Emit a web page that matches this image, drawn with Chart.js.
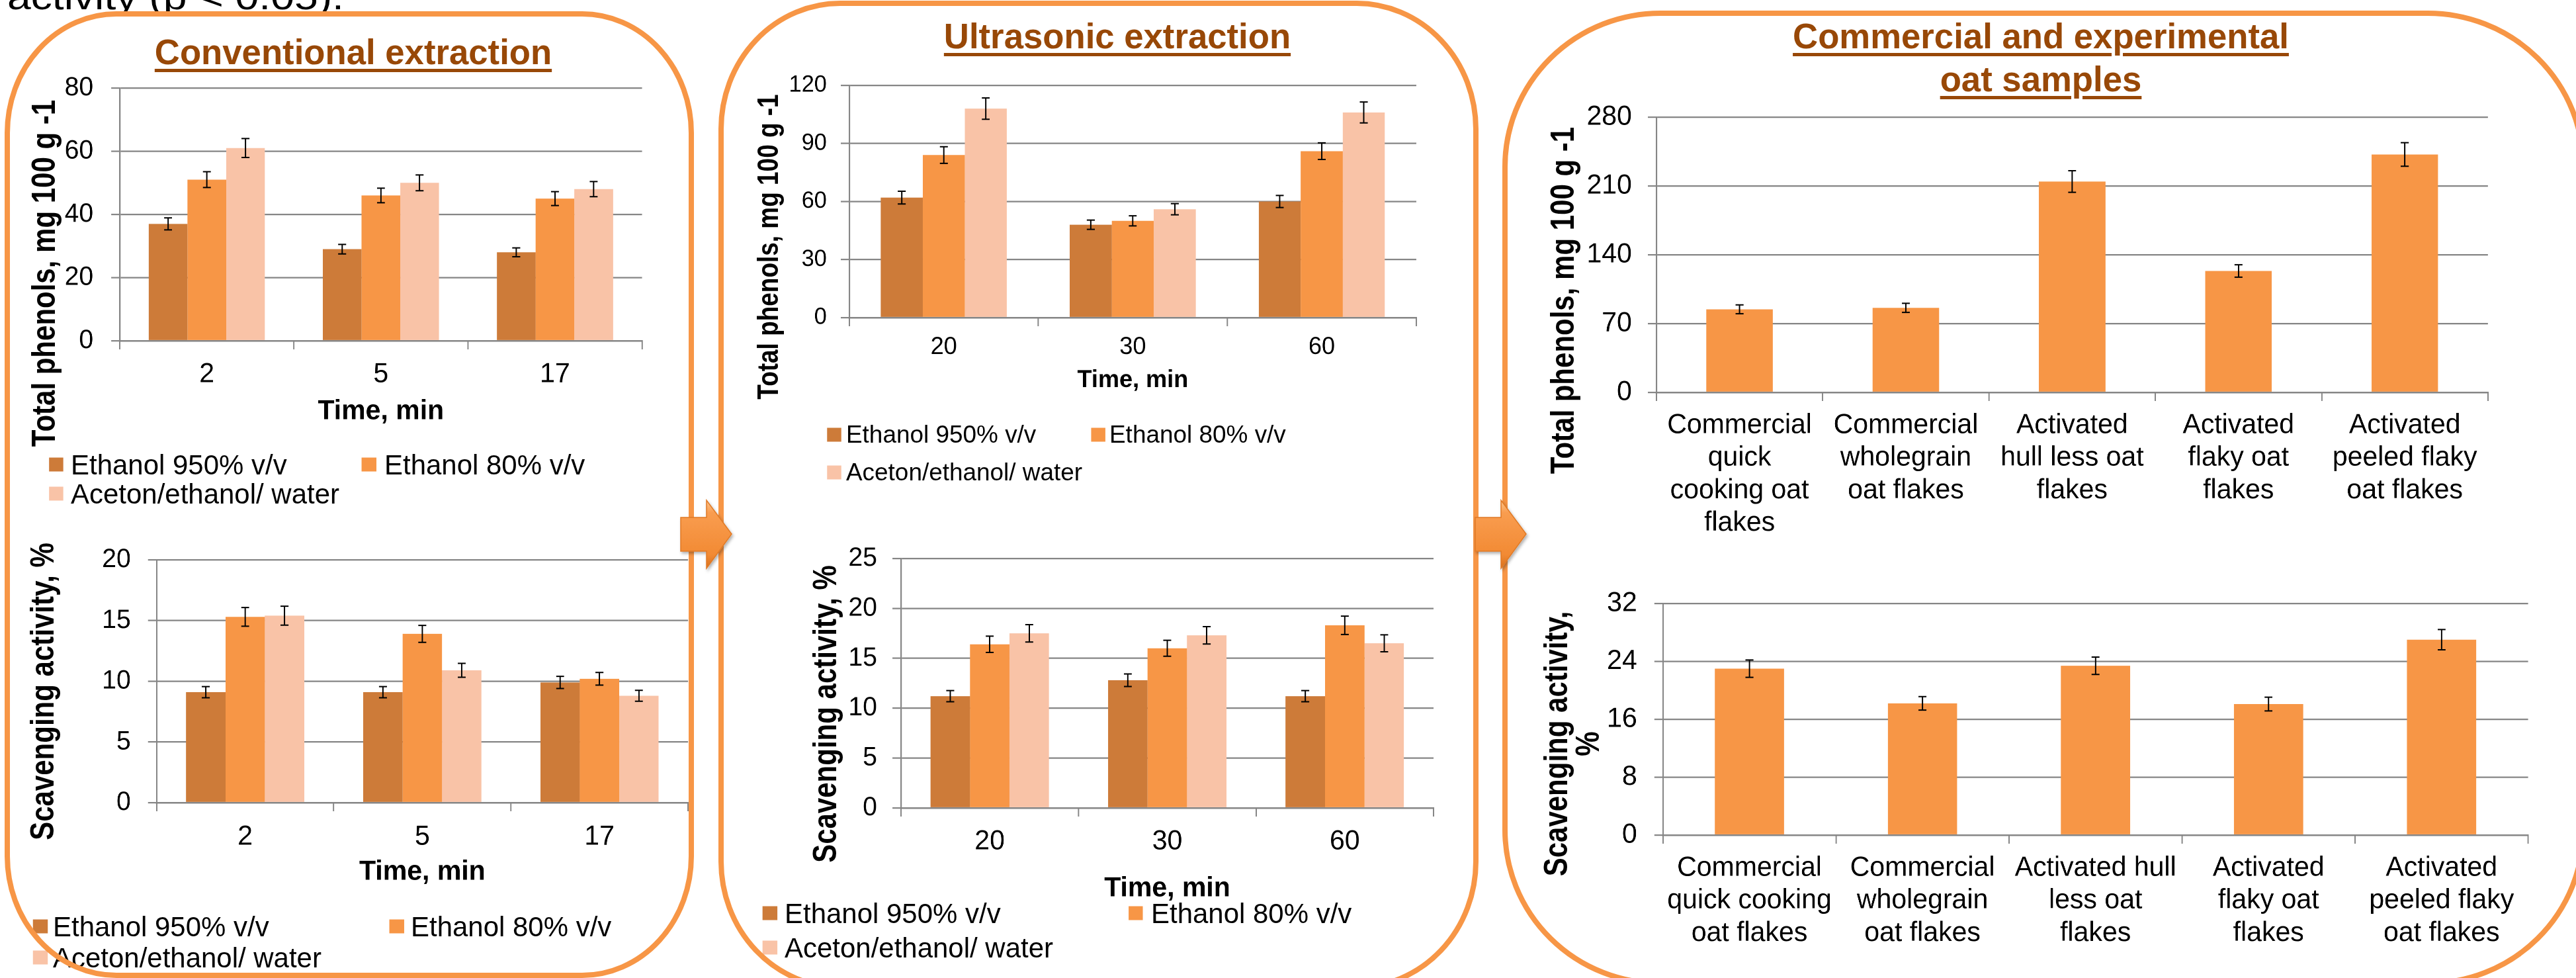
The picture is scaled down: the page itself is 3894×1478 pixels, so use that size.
<!DOCTYPE html>
<html>
<head>
<meta charset="utf-8">
<script src="https://cdn.jsdelivr.net/npm/chart.js@4.4.1/dist/chart.umd.min.js"></script>
<style>
  html, body { margin: 0; padding: 0; background: #fff; overflow: hidden; }
  body { width: 3894px; height: 1478px; position: relative; }
  /* narrow layer: Liberation Sans squeezed to look like the stretched Arial Narrow of the figure */
  #narrow { position: absolute; left: 0; top: 0; width: 3990px; height: 1478px; transform: scaleX(0.976); transform-origin: 0 0; }
  #wide { position: absolute; left: 0; top: 0; width: 3273px; height: 1478px; transform: scaleX(1.19); transform-origin: 0 0; }
  #frames { position: absolute; left: 0; top: 0; pointer-events: none; }
  .box { position: absolute; }
  .note { position: absolute; font: 54px "Liberation Sans", Arial, sans-serif; line-height: 54px; color: #000; white-space: nowrap; }
  .title { position: absolute; font: bold 54px "Liberation Sans", Arial, sans-serif; line-height: 65px; color: #984807;
           text-decoration: underline; text-decoration-thickness: 5px; text-underline-offset: 7px; white-space: nowrap; text-align: center; transform: translateX(-50%); }
  .ytitle { position: absolute; font-family: "Liberation Sans", Arial, sans-serif; font-weight: bold; line-height: 40px; color: #000; white-space: nowrap; text-align: center;
            transform: translate(-50%, -50%) rotate(-90deg); }
  .leg { position: absolute; font-family: "Liberation Sans", Arial, sans-serif; color: #000; white-space: nowrap; transform: translateY(-50%); }
  .sq { position: absolute; height: 21px; transform: translateY(-50%); }
</style>
</head>
<body>
<div id="narrow"></div>
<div id="wide"></div>
<svg id="frames" width="3894" height="1478" viewBox="0 0 3894 1478">
  <defs>
    <linearGradient id="arrowFill" x1="0" y1="0" x2="0" y2="1">
      <stop offset="0" stop-color="#FDC48A"/>
      <stop offset="0.18" stop-color="#F99D50"/>
      <stop offset="0.8" stop-color="#F28A33"/>
      <stop offset="1" stop-color="#D8701C"/>
    </linearGradient>
    <filter id="shadow" x="-20%" y="-20%" width="150%" height="150%">
      <feDropShadow dx="2" dy="3" stdDeviation="2" flood-color="#000" flood-opacity="0.3"/>
    </filter>
  </defs>
  <g fill="none" stroke="#F79646" stroke-width="8">
    <rect x="11" y="21" width="1034" height="1453" rx="165" ry="180"/>
    <rect x="1090" y="5" width="1141" height="1487" rx="180" ry="190"/>
    <rect x="2275" y="20" width="1630" height="1466" rx="235" ry="232"/>
  </g>
  <g fill="url(#arrowFill)" stroke="#E07A26" stroke-width="1.5" filter="url(#shadow)">
    <path d="M1029,782 L1068,782 L1068,756 L1106,807 L1068,859 L1068,833 L1029,833 Z"/>
    <path d="M2230,782 L2269,782 L2269,756 L2307,807 L2269,859 L2269,833 L2230,833 Z"/>
  </g>
</svg>
<script>
// data
const convTimes = ['2', '5', '17'];
const ultraTimes = ['20', '30', '60'];
const solvents = ['Ethanol 950% v/v', 'Ethanol 80% v/v', 'Aceton/ethanol/ water'];

const convPhenols95 = [37, 29, 28];
const convPhenols80 = [51, 46, 45];
const convPhenolsAc = [61, 50, 48];
const convPhenols95Err = [1.9, 1.5, 1.4];
const convPhenols80Err = [2.5, 2.3, 2.2];
const convPhenolsAcErr = [3.0, 2.5, 2.4];

const convScav95 = [9.1, 9.1, 9.9];
const convScav80 = [15.3, 13.9, 10.2];
const convScavAc = [15.4, 10.9, 8.8];
const convScav95Err = [0.46, 0.46, 0.5];
const convScav80Err = [0.77, 0.7, 0.52];
const convScavAcErr = [0.78, 0.57, 0.45];

const ultraPhenols95 = [62, 48, 60];
const ultraPhenols80 = [84, 50, 86];
const ultraPhenolsAc = [108, 56, 106];
const ultraPhenols95Err = [3.3, 2.4, 3.1];
const ultraPhenols80Err = [4.3, 2.6, 4.3];
const ultraPhenolsAcErr = [5.5, 2.9, 5.4];

const ultraScav95 = [11.2, 12.8, 11.2];
const ultraScav80 = [16.4, 16.0, 18.3];
const ultraScavAc = [17.5, 17.3, 16.5];
const ultraScav95Err = [0.56, 0.63, 0.56];
const ultraScav80Err = [0.82, 0.8, 0.92];
const ultraScavAcErr = [0.87, 0.87, 0.85];

const oatPhenolLabels = [['Commercial', 'quick', 'cooking oat', 'flakes'], ['Commercial', 'wholegrain', 'oat flakes'],
  ['Activated', 'hull less oat', 'flakes'], ['Activated', 'flaky oat', 'flakes'], ['Activated', 'peeled flaky', 'oat flakes']];
const oatScavLabels = [['Commercial', 'quick cooking', 'oat flakes'], ['Commercial', 'wholegrain', 'oat flakes'],
  ['Activated hull', 'less oat', 'flakes'], ['Activated', 'flaky oat', 'flakes'], ['Activated', 'peeled flaky', 'oat flakes']];
const oatPhenols = [84.5, 86, 214.5, 123.5, 242];
const oatPhenolsErr = [4.5, 4.6, 11, 6.3, 12];
const oatScav = [23.0, 18.2, 23.4, 18.1, 27.0];
const oatScavErr = [1.2, 0.93, 1.2, 0.95, 1.4];

const SN = 0.976, SW = 1.19;
const sans = '"Liberation Sans", Arial, sans-serif';
const gridColor = '#868686';
const solventColors = ['#CD7B39', '#F79646', '#F9C3A7'];
const narrowLayer = document.getElementById('narrow');
const wideLayer = document.getElementById('wide');

function addEl(cls, x, y, html, wide) {
  var el = document.createElement('div');
  el.className = cls;
  el.style.left = (x / (wide ? SW : SN)) + 'px';
  el.style.top = y + 'px';
  el.innerHTML = html;
  (wide ? wideLayer : narrowLayer).appendChild(el);
  return el;
}

const errorBars = {
  id: 'errorBars',
  afterDatasetsDraw(chart) {
    var ctx = chart.ctx, y = chart.scales.y, cap = 6 / SN;
    chart.data.datasets.forEach(function(ds, i) {
      if (!ds.errors) return;
      chart.getDatasetMeta(i).data.forEach(function(bar, j) {
        var v = ds.data[j], e = ds.errors[j];
        var top = y.getPixelForValue(v + e), bot = y.getPixelForValue(v - e);
        ctx.save();
        ctx.strokeStyle = '#000';
        ctx.lineWidth = 2;
        ctx.beginPath();
        ctx.moveTo(bar.x, top); ctx.lineTo(bar.x, bot);
        ctx.moveTo(bar.x - cap, top); ctx.lineTo(bar.x + cap, top);
        ctx.moveTo(bar.x - cap, bot); ctx.lineTo(bar.x + cap, bot);
        ctx.stroke();
        ctx.restore();
      });
    });
  }
};

function solventSets(a, b, c, ea, eb, ec) {
  return [a, b, c].map(function(d, i) {
    return { label: solvents[i], data: d, errors: [ea, eb, ec][i], backgroundColor: solventColors[i],
             categoryPercentage: 0.667, barPercentage: 1.0 };
  });
}

function makeChart(spec) {
  var p = spec.plot, f = spec.fs || 1;
  // leave 80px above the plot so the top tick label never pushes the plot down
  var box = { l: p.l - 180, r: p.r + 30, t: p.t - 80, b: spec.xTitleMid ? spec.xTitleMid + 40 : p.b + 260 };
  var wrap = document.createElement('div');
  wrap.className = 'box';
  wrap.style.left = (box.l / SN) + 'px';
  wrap.style.top = box.t + 'px';
  wrap.style.width = ((box.r - box.l) / SN) + 'px';
  wrap.style.height = (box.b - box.t) + 'px';
  var canvas = document.createElement('canvas');
  wrap.appendChild(canvas);
  narrowLayer.appendChild(wrap);

  var tickLen = 13 / SN;
  var tickFont = { family: sans, size: (spec.tickSize || 40) * f, lineHeight: 1.2 };
  var catFont = { family: sans, size: (spec.catSize || 42) * f, lineHeight: spec.catLine || 1.2 };
  var xTitleSize = 42 * f;
  var chart = new Chart(canvas, {
    type: 'bar',
    data: { labels: spec.labels, datasets: spec.datasets },
    options: {
      responsive: true,
      maintainAspectRatio: false,
      animation: false,
      devicePixelRatio: 2,
      layout: { padding: { left: 0, right: (box.r - p.r) / SN, top: p.t - box.t, bottom: 0 } },
      plugins: { legend: { display: false }, tooltip: { enabled: false } },
      scales: {
        x: {
          grid: { display: true, drawOnChartArea: false, drawTicks: true, tickLength: 13, color: gridColor, lineWidth: 2, offset: true },
          border: { display: true, color: gridColor, width: 2.5 },
          ticks: { color: '#000', font: catFont, maxRotation: 0, autoSkip: false,
                   padding: spec.xLabelMid - p.b - 13 - catFont.size * catFont.lineHeight / 2 },
          title: spec.xTitleMid ? {
            display: true, text: 'Time, min', color: '#000',
            font: { family: sans, size: xTitleSize, weight: 'bold', lineHeight: 1.2 },
            padding: { top: 0, bottom: box.b - spec.xTitleMid - xTitleSize * 1.2 / 2 }
          } : { display: false },
          afterFit: function(s) { s.height = box.b - p.b; }
        },
        y: {
          min: 0, max: spec.max,
          ticks: { stepSize: spec.step, color: '#000', font: tickFont, padding: (p.l - spec.tickRight) / SN - tickLen },
          grid: { color: gridColor, lineWidth: 2.2, tickLength: tickLen },
          border: { display: true, color: gridColor, width: 2.2 },
          afterFit: function(s) { s.width = (p.l - box.l) / SN; }
        }
      }
    },
    plugins: [errorBars]
  });

  var yt = addEl('ytitle', spec.yTitle.x, spec.yTitle.y, spec.yTitle.text, true);
  yt.style.fontSize = (42 * f) + 'px';
  if (spec.legend) {
    chart.data.datasets.forEach(function(ds, i) {
      var pos = spec.legend[i];
      var sq = addEl('sq', pos[0], pos[2], '');
      sq.style.width = (22 / SN) + 'px';
      sq.style.background = ds.backgroundColor;
      var lg = addEl('leg', pos[1], pos[2], ds.label);
      lg.style.fontSize = (43 * f) + 'px';
      lg.style.lineHeight = (43 * f) + 'px';
    });
  }
  return chart;
}

addEl('note', 11, -32, 'activity (p &lt; 0.05).', true);
addEl('title', 534, 46, 'Conventional extraction');
addEl('title', 1689, 22, 'Ultrasonic extraction');
addEl('title', 3085, 22, 'Commercial and experimental<br>oat samples');

makeChart({
  plot: { l: 181, r: 970, t: 133, b: 515 }, tickRight: 141, xLabelMid: 566, xTitleMid: 622,
  labels: convTimes, max: 80, step: 20,
  datasets: solventSets(convPhenols95, convPhenols80, convPhenolsAc, convPhenols95Err, convPhenols80Err, convPhenolsAcErr),
  yTitle: { x: 67, y: 413, text: 'Total phenols, mg 100 g -1' },
  legend: [[74, 107, 702], [547, 581, 702], [74, 107, 746]]
});
makeChart({
  plot: { l: 237, r: 1040, t: 846, b: 1213 }, tickRight: 198, xLabelMid: 1265, xTitleMid: 1318,
  labels: convTimes, max: 20, step: 5,
  datasets: solventSets(convScav95, convScav80, convScavAc, convScav95Err, convScav80Err, convScavAcErr),
  yTitle: { x: 64, y: 1045, text: 'Scavenging activity, %' },
  legend: [[50, 80, 1400], [589, 621, 1400], [50, 80, 1447]]
});
makeChart({
  plot: { l: 1284, r: 2141, t: 129, b: 480 }, tickRight: 1250, xLabelMid: 525, xTitleMid: 575, fs: 0.88,
  labels: ultraTimes, max: 120, step: 30,
  datasets: solventSets(ultraPhenols95, ultraPhenols80, ultraPhenolsAc, ultraPhenols95Err, ultraPhenols80Err, ultraPhenolsAcErr),
  yTitle: { x: 1161, y: 373, text: 'Total phenols, mg 100 g -1' },
  legend: [[1250, 1279, 657], [1649, 1677, 657], [1250, 1279, 714]]
});
makeChart({
  plot: { l: 1362, r: 2167, t: 844, b: 1221 }, tickRight: 1326, xLabelMid: 1272, xTitleMid: 1343,
  labels: ultraTimes, max: 25, step: 5,
  datasets: solventSets(ultraScav95, ultraScav80, ultraScavAc, ultraScav95Err, ultraScav80Err, ultraScavAcErr),
  yTitle: { x: 1247, y: 1079, text: 'Scavenging activity, %' },
  legend: [[1153, 1186, 1380], [1706, 1740, 1380], [1153, 1186, 1432]]
});
makeChart({
  plot: { l: 2504, r: 3761, t: 177, b: 593 }, tickRight: 2467, xLabelMid: 643, tickSize: 42, catSize: 42, catLine: 1.17,
  labels: oatPhenolLabels, max: 280, step: 70,
  datasets: [{ label: 'Total phenols', data: oatPhenols, errors: oatPhenolsErr, backgroundColor: '#F79646', categoryPercentage: 0.4, barPercentage: 1.0 }],
  yTitle: { x: 2362, y: 454, text: 'Total phenols, mg 100 g -1' }
});
makeChart({
  plot: { l: 2514, r: 3821, t: 912, b: 1262 }, tickRight: 2475, xLabelMid: 1312, tickSize: 42, catSize: 42, catLine: 1.17,
  labels: oatScavLabels, max: 32, step: 8,
  datasets: [{ label: 'Scavenging activity', data: oatScav, errors: oatScavErr, backgroundColor: '#F79646', categoryPercentage: 0.4, barPercentage: 1.0 }],
  yTitle: { x: 2376, y: 1124, text: 'Scavenging activity,<br>%' }
});
</script>
</body>
</html>
